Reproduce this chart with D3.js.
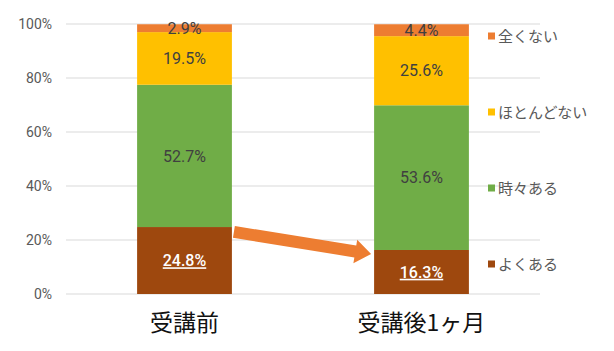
<!DOCTYPE html>
<html>
<head>
<meta charset="utf-8">
<script src="https://cdn.jsdelivr.net/npm/d3@7"></script>
<style>
  html, body { margin: 0; padding: 0; background: #fff; }
  svg { display: block; font-family: "Noto Sans CJK JP", "Noto Sans", sans-serif; }
</style>
</head>
<body>
<svg id="chart"></svg>
<script>
const categories = ["受講前", "受講後1ヶ月"];
const seriesNames = ["よくある", "時々ある", "ほとんどない", "全くない"];
const oftenValues = [24.8, 16.3];
const sometimesValues = [52.7, 53.6];
const rarelyValues = [19.5, 25.6];
const neverValues = [2.9, 4.4];
const yTicks = [0, 20, 40, 60, 80, 100];
const seriesColors = ["#9E480E", "#70AD47", "#FFC000", "#ED7D31"];

const W = 614, H = 351;
const margin = { top: 24, right: 74, bottom: 57, left: 66 };
const innerW = W - margin.left - margin.right;
const innerH = H - margin.top - margin.bottom;

const svg = d3.select("#chart").attr("width", W).attr("height", H);
const g = svg.append("g").attr("transform", `translate(${margin.left},${margin.top})`);

const x = d3.scaleBand().domain(categories).range([0, innerW]).paddingInner(0.6).paddingOuter(0.3);
const y = d3.scaleLinear().domain([0, 100]).range([innerH, 0]);

// grid
g.selectAll(".grid").data(yTicks).join("line")
  .attr("x1", 0).attr("x2", innerW)
  .attr("y1", d => y(d)).attr("y2", d => y(d))
  .attr("stroke", "#D9D9D9").attr("stroke-width", 1);

// y labels
g.selectAll(".ylab").data(yTicks).join("text")
  .attr("x", -14).attr("y", d => y(d)).attr("dy", "0.35em")
  .attr("text-anchor", "end")
  .style("font-family", "Roboto, sans-serif")
  .style("font-size", "14px").style("fill", "#595959")
  .text(d => d + "%");

// stacked data
const rows = categories.map((c, i) => ({
  cat: c,
  "よくある": oftenValues[i], "時々ある": sometimesValues[i],
  "ほとんどない": rarelyValues[i], "全くない": neverValues[i]
}));
const stacked = d3.stack().keys(seriesNames)(rows);

stacked.forEach((layer, si) => {
  g.selectAll(".bar" + si).data(layer).join("rect")
    .attr("x", d => x(d.data.cat))
    .attr("width", x.bandwidth())
    .attr("y", d => y(d[1]))
    .attr("height", d => y(d[0]) - y(d[1]))
    .attr("fill", seriesColors[si]);

  g.selectAll(".lab" + si).data(layer).join("text")
    .attr("x", d => x(d.data.cat) + x.bandwidth() / 2)
    .attr("y", d => y((d[0] + d[1]) / 2))
    .attr("dy", "0.36em")
    .attr("text-anchor", "middle")
    .style("font-family", "Roboto, sans-serif")
    .style("font-size", "16px")
    .style("font-weight", si === 0 ? "500" : "normal")
    .style("text-decoration", si === 0 ? "underline" : "none")
    .style("fill", si === 0 ? "#fff" : "#404040")
    .text(d => (d[1] - d[0]).toFixed(1) + "%");
});

// arrow between bars
const x0 = x(categories[0]) + x.bandwidth() + 2;
const y0 = y(23);
const x1 = x(categories[1]) - 3;
const y1 = y(14.8);
const ang = Math.atan2(y1 - y0, x1 - x0);
const len = Math.hypot(x1 - x0, y1 - y0);
const sw = 6, hw = 12, hl = 16;
const arrowPts = [[0, -sw], [len - hl, -sw], [len - hl, -hw], [len, 0], [len - hl, hw], [len - hl, sw], [0, sw]];
g.append("path")
  .attr("transform", `translate(${x0},${y0}) rotate(${ang * 180 / Math.PI})`)
  .attr("d", d3.line()(arrowPts) + "Z")
  .attr("fill", "#ED7D31");

// category labels
g.selectAll(".cat").data(categories).join("text")
  .attr("x", d => x(d) + x.bandwidth() / 2)
  .attr("y", innerH + 37)
  .attr("text-anchor", "middle")
  .style("font-size", "23px").style("fill", "#111")
  .text(d => d);

// legend
const legend = svg.append("g").attr("transform", `translate(${margin.left + innerW - 52},0)`);
const legendOrder = seriesNames.slice().reverse();
const legendY = [37, 113, 189, 265];
legendOrder.forEach((name, i) => {
  const col = seriesColors[seriesNames.indexOf(name)];
  legend.append("rect")
    .attr("x", 0).attr("y", legendY[i] - 4.5).attr("width", 7).attr("height", 7)
    .attr("fill", col);
  legend.append("text")
    .attr("x", 10).attr("y", legendY[i]).attr("dy", "0.36em")
    .style("font-size", "15px").style("fill", "#595959")
    .text(name);
});
</script>
</body>
</html>
